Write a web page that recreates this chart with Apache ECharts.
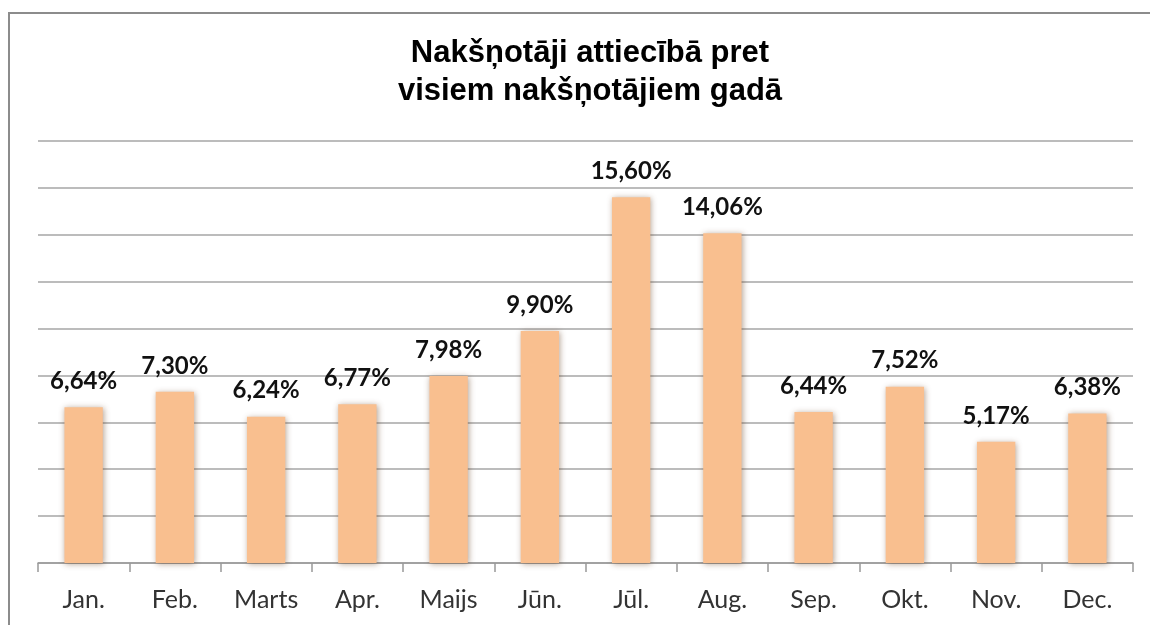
<!DOCTYPE html>
<html>
<head>
<meta charset="utf-8">
<script src="https://cdn.jsdelivr.net/npm/echarts@6/dist/echarts.min.js"></script>
<style>
  html, body { margin: 0; padding: 0; background: #fff; }
  #main { width: 1150px; height: 625px; }
</style>
</head>
<body>
<div id="main"></div>
<script>
// mēneši un nakšņotāju daļa (%)
var months = ['Jan.', 'Feb.', 'Marts', 'Apr.', 'Maijs', 'Jūn.', 'Jūl.', 'Aug.', 'Sep.', 'Okt.', 'Nov.', 'Dec.'];
var shares = [6.64, 7.30, 6.24, 6.77, 7.98, 9.90, 15.60, 14.06, 6.44, 7.52, 5.17, 6.38];

var chart = echarts.init(document.getElementById('main'));
chart.setOption({
    animation: false,
    title: {
        text: 'Nakšņotāji attiecībā pret\nvisiem nakšņotājiem gadā',
        left: 585,
        textAlign: 'center',
        top: 29,
        textStyle: {
            fontFamily: 'Liberation Sans',
            fontWeight: 'bold',
            fontSize: 31,
            lineHeight: 38,
            color: '#000'
        }
    },
    graphic: [{
        type: 'rect',
        shape: { x: 9, y: 13, width: 1200, height: 700 },
        style: { fill: 'none', stroke: '#8c8c8c', lineWidth: 2 },
        silent: true
    }],
    grid: { left: 38, right: 17, top: 141, bottom: 62 },
    xAxis: {
        type: 'category',
        data: months,
        axisLine: { lineStyle: { color: '#999', width: 1.5 } },
        axisTick: { show: true, length: 9, lineStyle: { color: '#999', width: 1.5 } },
        axisLabel: { fontFamily: 'Lato', fontSize: 25, color: '#333', margin: 24 }
    },
    yAxis: {
        type: 'value',
        min: 0,
        max: 18,
        interval: 2,
        axisLabel: { show: false },
        axisLine: { show: false },
        axisTick: { show: false },
        splitLine: { lineStyle: { color: '#a6a6a6', width: 1.5 } }
    },
    series: [{
        type: 'bar',
        data: shares,
        barWidth: '42%',
        itemStyle: {
            color: '#F9BF8F',
            shadowBlur: 6,
            shadowOffsetX: 1,
            shadowOffsetY: 1,
            shadowColor: 'rgba(90,50,20,0.45)'
        },
        label: {
            show: true,
            position: 'top',
            distance: 14,
            fontFamily: 'Lato',
            fontWeight: 'bold',
            fontSize: 24,
            color: '#111',
            formatter: function (p) {
                return p.value.toFixed(2).replace('.', ',') + '%';
            }
        }
    }]
});
</script>
</body>
</html>
